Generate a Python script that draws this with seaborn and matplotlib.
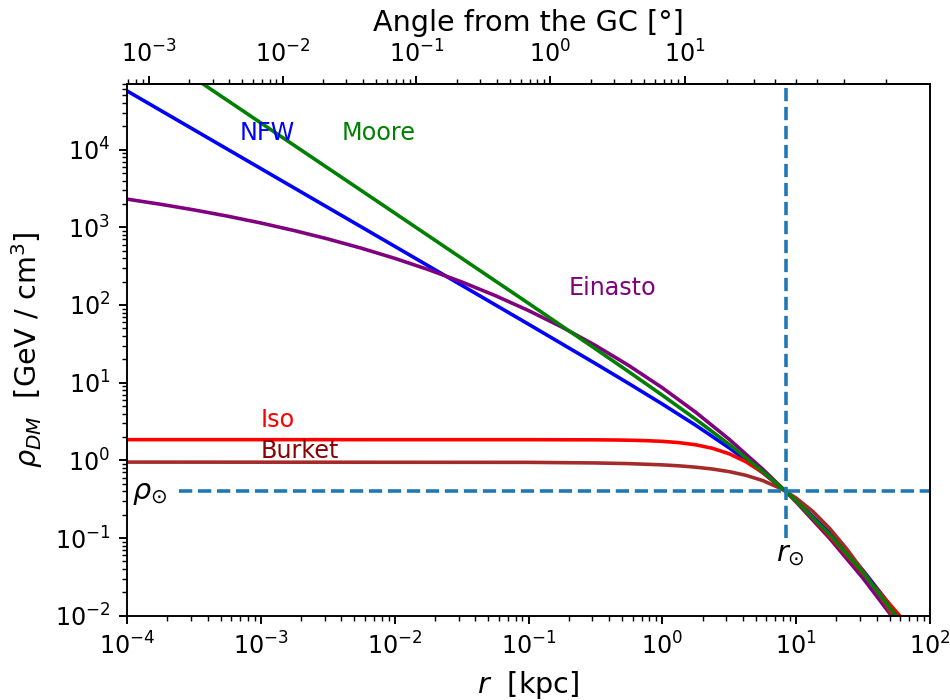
import numpy as np
import pandas as pd
import matplotlib
matplotlib.use("Agg")
import matplotlib.pyplot as plt
import seaborn as sns

# ---- data ----
R_SUN = 8.33      # kpc
RHO_SUN = 0.4     # GeV/cm^3

r_nfw = [1e-4, 1e-3, 1e-2, 0.1, 0.3162, 0.5623, 1, 1.778, 3.162, 5.623, 8.33, 10,
         17.78, 31.62, 56.23, 100]
rho_nfw = [57040, 5704, 570.0, 56.62, 17.63, 9.736, 5.304, 2.824, 1.4456, 0.6950,
           0.400, 0.3038, 0.11662, 0.03827, 0.010676, 0.002579]

r_moore = [1e-4, 1e-3, 1e-2, 0.1, 0.3162, 0.5623, 1, 1.778, 3.162, 5.623, 8.33, 10,
           17.78, 31.62, 56.23, 100]
rho_moore = [319300, 22090, 1527.6, 105.1, 27.29, 13.79, 6.891, 3.378, 1.6026, 0.7213,
             0.400, 0.2993, 0.11093, 0.03571, 0.009892, 0.002389]

r_ein = [1e-4, 1.778e-4, 3.162e-4, 5.623e-4, 1e-3, 1.778e-3, 3.162e-3, 5.623e-3,
         1e-2, 1.778e-2, 3.162e-2, 5.623e-2, 0.1, 0.1778, 0.3162, 0.5623, 1, 1.778,
         3.162, 5.623, 8.33, 10, 17.78, 31.62, 56.23, 100]
rho_ein = [2307, 1982, 1676, 1394, 1137, 908.0, 709.0, 539.3, 399.0, 286.2, 198.5,
           132.5, 84.84, 51.89, 30.18, 16.60, 8.595, 4.155, 1.864, 0.7701, 0.400,
           0.2905, 0.09914, 0.03030, 0.008194, 0.001934]

r_iso = [1e-4, 0.1, 0.3162, 0.4217, 0.5623, 0.7499, 1, 1.3335, 1.7783, 2.3714, 3.1623,
         4.2170, 5.6234, 7.4989, 8.33, 10, 13.335, 17.783, 23.714, 31.623, 42.170,
         56.234, 100]
rho_iso = [1.8468, 1.8458, 1.8372, 1.8298, 1.8168, 1.7942, 1.7553, 1.6901, 1.5854,
           1.4282, 1.2140, 0.9584, 0.6973, 0.4698, 0.400, 0.2973, 0.17983, 0.10563,
           0.060925, 0.034763, 0.019711, 0.011136, 0.0035362]

r_bur = [1e-4, 0.1, 0.3162, 0.5623, 1, 1.3335, 1.7783, 2.3714, 3.1623, 4.2170, 5.6234,
         7.4989, 8.33, 10, 13.335, 17.783, 23.714, 31.623, 42.170, 56.234, 100]
rho_bur = [0.9496, 0.9421, 0.9259, 0.9074, 0.8747, 0.8497, 0.8166, 0.7728, 0.7154,
           0.6414, 0.5494, 0.4418, 0.400, 0.3270, 0.2195, 0.13303, 0.07343, 0.03757,
           0.018165, 0.008436, 0.001687]

sun_h_r = [2.46e-4, 100]      # extent of horizontal rho_sun line
sun_v_rho = [0.1, 7e4]        # extent of vertical r_sun line

profiles = ["NFW", "Einasto", "Iso", "Burket", "Moore"]
colors = {"NFW": "blue", "Einasto": "purple", "Iso": "red",
          "Burket": "brown", "Moore": "green"}

frames = []
for name, rr, dd in [("NFW", r_nfw, rho_nfw), ("Einasto", r_ein, rho_ein),
                     ("Iso", r_iso, rho_iso), ("Burket", r_bur, rho_bur),
                     ("Moore", r_moore, rho_moore)]:
    frames.append(pd.DataFrame({"r": rr, "rho": dd, "profile": name}))
df = pd.concat(frames, ignore_index=True)

# ---- figure ----
DPI = 172
fig = plt.figure(figsize=(950 / DPI, 700 / DPI), dpi=DPI)
ax = fig.add_axes([127 / 950, 1 - 615.7 / 700, (930 - 127) / 950, (615.7 - 84) / 700])

for name in profiles:
    sub = df[df["profile"] == name]
    sns.lineplot(data=sub, x="r", y="rho", ax=ax, color=colors[name], lw=1.5,
                 estimator=None, sort=False, legend=False)

ax.set_xscale("log")
ax.set_yscale("log")
ax.set_xlim(1e-4, 1e2)
ax.set_ylim(1e-2, 7e4)

ax.plot(sun_h_r, [RHO_SUN, RHO_SUN], ls="--", color="tab:blue", lw=1.5)
ax.plot([R_SUN, R_SUN], sun_v_rho, ls="--", color="tab:blue", lw=1.5)

ax.set_xlabel(r"$r$  [kpc]", fontsize=12)
ax.set_ylabel(r"$\rho_{DM}$  [GeV / cm$^3$]", fontsize=12)
ax.tick_params(labelsize=10)

ax.text(7.0e-4, 1.65e4, "NFW", color="blue", fontsize=10, va="center", ha="left")
ax.text(4.04e-3, 1.65e4, "Moore", color="green", fontsize=10, va="center", ha="left")
ax.text(0.20, 165, "Einasto", color="purple", fontsize=10, va="center", ha="left")
ax.text(1.0e-3, 3.3, "Iso", color="red", fontsize=10, va="center", ha="left")
ax.text(1.0e-3, 1.30, "Burket", color="darkred", fontsize=10, va="center", ha="left")
ax.text(1.09e-4, 0.385, r"$\rho_{\odot}$", color="black", fontsize=12, va="center", ha="left")
ax.text(7.07, 0.0616, r"$r_{\odot}$", color="black", fontsize=12, va="center", ha="left")


def r2deg(r):
    r = np.asarray(r, dtype=float)
    return np.degrees(np.arctan(r / R_SUN))


def deg2r(d):
    d = np.clip(np.asarray(d, dtype=float), 1e-12, 89.9999)
    return R_SUN * np.tan(np.radians(d))


secax = ax.secondary_xaxis("top", functions=(r2deg, deg2r))
secax.set_xlabel("Angle from the GC [°]", fontsize=12)
secax.tick_params(labelsize=10)

fig.savefig("out.png", dpi=DPI)
